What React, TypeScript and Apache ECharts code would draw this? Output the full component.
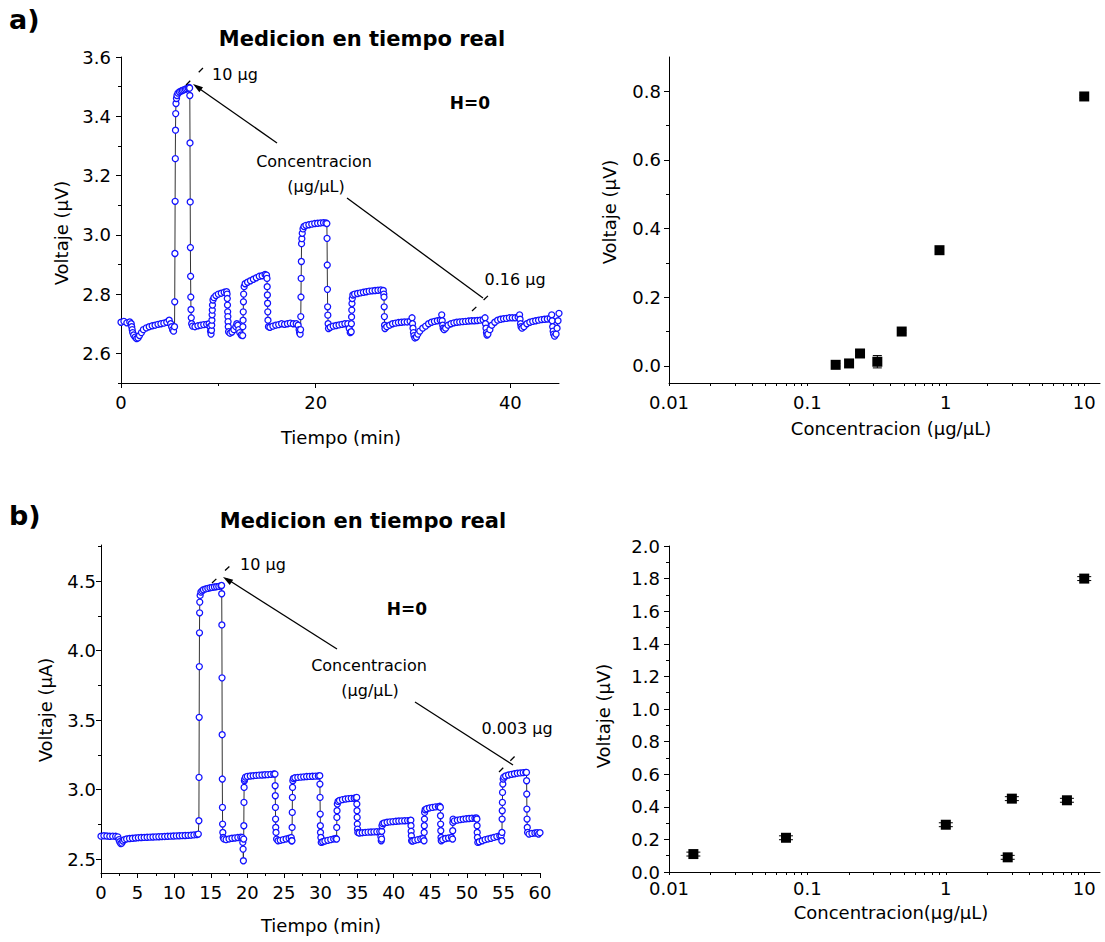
import React, { useEffect, useRef } from 'react';
import * as echarts from 'echarts';

const FONT = '"DejaVu Sans", sans-serif';
const BLUE = '#1212ff';

// Panel a) real-time measurement [time (min), voltage]
const seriesA: number[][] = [
  [0, 2.705], [0.3, 2.708], [0.6, 2.703], [0.9, 2.706], [1.05, 2.7], [1.1, 2.69], [1.15, 2.68], [1.2, 2.67], [1.3, 2.662], [1.45, 2.655], [1.6, 2.65], [1.75, 2.652], [1.9, 2.66], [2.1, 2.67], [2.3, 2.68], [2.6, 2.686], [2.9, 2.69], [3.2, 2.693], [3.5, 2.695], [3.8, 2.698], [4.1, 2.7], [4.4, 2.702], [4.7, 2.705], [4.95, 2.712], [5.1, 2.7], [5.2, 2.69], [5.3, 2.68], [5.4, 2.675],
  [5.5, 2.69], [5.52, 2.774], [5.54, 2.937], [5.56, 3.113], [5.58, 3.257], [5.6, 3.353], [5.62, 3.409], [5.65, 3.443], [5.7, 3.46], [5.75, 3.47], [5.85, 3.478], [6.0, 3.482], [6.15, 3.485], [6.3, 3.487], [6.45, 3.489], [6.6, 3.491], [6.75, 3.493], [6.9, 3.495], [7.0, 3.497],
  [7.05, 3.495], [7.07, 3.47], [7.09, 3.31], [7.11, 3.111], [7.13, 2.957], [7.15, 2.86], [7.17, 2.79], [7.19, 2.748], [7.22, 2.72], [7.26, 2.7], [7.35, 2.692], [7.6, 2.69], [7.9, 2.693], [8.2, 2.695], [8.5, 2.697], [8.8, 2.698], [9.05, 2.7],
  [9.15, 2.69], [9.2, 2.675], [9.25, 2.665],
  [9.3, 2.678], [9.32, 2.695], [9.34, 2.712], [9.36, 2.73], [9.38, 2.746], [9.4, 2.763], [9.45, 2.78], [9.55, 2.788], [9.75, 2.795], [10.0, 2.8], [10.3, 2.803], [10.6, 2.806], [10.85, 2.808],
  [10.9, 2.8], [10.92, 2.785], [10.94, 2.763], [10.96, 2.74], [10.98, 2.724], [11.0, 2.707], [11.02, 2.69], [11.05, 2.673], [11.2, 2.668], [11.4, 2.672], [11.6, 2.68], [11.8, 2.69], [11.9, 2.7], [12.0, 2.695], [12.1, 2.68], [12.2, 2.67], [12.35, 2.662],
  [12.5, 2.66], [12.52, 2.69], [12.54, 2.712], [12.56, 2.74], [12.58, 2.774], [12.6, 2.8], [12.65, 2.825], [12.75, 2.835], [13.0, 2.84], [13.3, 2.845], [13.6, 2.85], [13.9, 2.855], [14.2, 2.86], [14.5, 2.862], [14.8, 2.866], [14.95, 2.864],
  [15.0, 2.853], [15.02, 2.825], [15.04, 2.797], [15.06, 2.769], [15.08, 2.74], [15.1, 2.712], [15.15, 2.69], [15.3, 2.688], [15.6, 2.692], [15.9, 2.695], [16.2, 2.697], [16.5, 2.7], [16.8, 2.698], [17.1, 2.7], [17.4, 2.702], [17.7, 2.7], [18.0, 2.7], [18.2, 2.695],
  [18.3, 2.68], [18.35, 2.67], [18.4, 2.665],
  [18.45, 2.68], [18.47, 2.724], [18.49, 2.79], [18.51, 2.853], [18.53, 2.91], [18.55, 2.97], [18.58, 2.987], [18.62, 3.005], [18.7, 3.02], [18.8, 3.028], [19.0, 3.032], [19.3, 3.034], [19.6, 3.036], [19.9, 3.038], [20.2, 3.039], [20.5, 3.04], [20.8, 3.041], [21.05, 3.04],
  [21.15, 3.038], [21.17, 2.988], [21.19, 2.898], [21.21, 2.816], [21.23, 2.757], [21.25, 2.729], [21.28, 2.7], [21.32, 2.684], [21.5, 2.688], [21.8, 2.692], [22.1, 2.694], [22.4, 2.696], [22.7, 2.698], [23.0, 2.7], [23.3, 2.7],
  [23.45, 2.684], [23.55, 2.67],
  [23.65, 2.673], [23.67, 2.7], [23.69, 2.723], [23.71, 2.746], [23.73, 2.768], [23.76, 2.785], [23.82, 2.797], [24.0, 2.8], [24.3, 2.802], [24.6, 2.804], [24.9, 2.806], [25.2, 2.808], [25.5, 2.81], [25.8, 2.811], [26.1, 2.812], [26.4, 2.813], [26.7, 2.814], [26.95, 2.812],
  [27.0, 2.8], [27.02, 2.79], [27.04, 2.757], [27.06, 2.724], [27.08, 2.695], [27.12, 2.684], [27.3, 2.69], [27.6, 2.695], [27.9, 2.7], [28.2, 2.702], [28.5, 2.704], [28.8, 2.705], [29.1, 2.706], [29.4, 2.706], [29.7, 2.708],
  [29.9, 2.72], [29.95, 2.7], [30.0, 2.685], [30.05, 2.67], [30.1, 2.66], [30.2, 2.652], [30.35, 2.655], [30.5, 2.665], [30.7, 2.675], [31.0, 2.685], [31.3, 2.692], [31.6, 2.7], [31.9, 2.705], [32.2, 2.708], [32.5, 2.71], [32.8, 2.712],
  [32.95, 2.73], [33.0, 2.71], [33.05, 2.695], [33.1, 2.685], [33.2, 2.68], [33.35, 2.685], [33.6, 2.695], [33.9, 2.7], [34.2, 2.703], [34.5, 2.705], [34.8, 2.706], [35.1, 2.707], [35.4, 2.708], [35.7, 2.709], [36.0, 2.71], [36.3, 2.71], [36.6, 2.711], [36.9, 2.712], [37.2, 2.713],
  [37.4, 2.72], [37.45, 2.7], [37.5, 2.685], [37.55, 2.67], [37.6, 2.662], [37.7, 2.665], [37.9, 2.68], [38.1, 2.695], [38.4, 2.705], [38.7, 2.712], [39.0, 2.715], [39.3, 2.717], [39.6, 2.718], [39.9, 2.72], [40.2, 2.72], [40.5, 2.72], [40.8, 2.722],
  [40.95, 2.73], [41.0, 2.715], [41.05, 2.7], [41.1, 2.69], [41.2, 2.685], [41.4, 2.69], [41.7, 2.7], [42.0, 2.705], [42.3, 2.708], [42.6, 2.71], [42.9, 2.712], [43.2, 2.714], [43.5, 2.715], [43.8, 2.716], [44.1, 2.718],
  [44.25, 2.73], [44.3, 2.71], [44.35, 2.69], [44.4, 2.675], [44.45, 2.665], [44.55, 2.658], [44.7, 2.665], [44.8, 2.685], [44.9, 2.71], [45.0, 2.735],
];

// Panel b) real-time measurement [time (min), voltage]
const seriesB: number[][] = [
  [0, 2.665], [0.4, 2.668], [0.8, 2.666], [1.2, 2.664], [1.6, 2.665], [2.0, 2.664], [2.3, 2.66],
  [2.45, 2.64], [2.55, 2.625], [2.7, 2.612], [2.85, 2.615], [3.0, 2.63], [3.2, 2.64], [3.5, 2.645], [3.9, 2.648], [4.3, 2.65], [4.7, 2.652], [5.1, 2.654], [5.5, 2.655], [5.9, 2.656], [6.3, 2.657], [6.7, 2.658], [7.1, 2.659], [7.5, 2.66], [7.9, 2.661], [8.3, 2.662], [8.7, 2.663], [9.1, 2.664], [9.5, 2.665], [9.9, 2.666], [10.3, 2.667], [10.7, 2.668], [11.1, 2.669], [11.5, 2.67], [11.9, 2.671], [12.3, 2.672], [12.7, 2.674], [13.1, 2.676], [13.3, 2.68],
  [13.38, 2.776], [13.4, 3.088], [13.42, 3.52], [13.44, 3.885], [13.46, 4.128], [13.48, 4.272], [13.5, 4.349], [13.55, 4.397], [13.65, 4.421], [13.8, 4.43], [14.0, 4.438], [14.3, 4.444], [14.6, 4.448], [14.9, 4.452], [15.2, 4.455], [15.5, 4.458], [15.8, 4.46], [16.1, 4.462], [16.4, 4.465],
  [16.48, 4.469], [16.5, 4.409], [16.52, 4.185], [16.54, 3.804], [16.56, 3.395], [16.58, 3.076], [16.6, 2.872], [16.62, 2.752], [16.65, 2.692], [16.7, 2.656], [16.8, 2.645], [17.1, 2.64], [17.5, 2.645], [17.9, 2.65], [18.3, 2.652], [18.7, 2.655], [19.1, 2.658], [19.3, 2.655],
  [19.38, 2.62], [19.42, 2.572], [19.46, 2.488],
  [19.5, 2.644], [19.52, 2.74], [19.54, 2.908], [19.56, 3.016], [19.6, 3.064], [19.65, 3.076], [19.75, 3.09], [20.0, 3.095], [20.4, 3.098], [20.8, 3.1], [21.2, 3.102], [21.6, 3.104], [22.0, 3.105], [22.4, 3.107], [22.8, 3.108], [23.2, 3.11], [23.6, 3.112],
  [23.78, 3.112], [23.8, 3.028], [23.82, 2.956], [23.84, 2.872], [23.86, 2.788], [23.88, 2.728], [23.92, 2.692], [24.0, 2.644], [24.2, 2.632], [24.5, 2.635], [24.9, 2.64], [25.3, 2.645], [25.7, 2.65], [26.0, 2.655], [26.05, 2.632],
  [26.1, 2.632], [26.12, 2.728], [26.14, 2.836], [26.16, 2.944], [26.18, 3.016], [26.22, 3.064], [26.3, 3.08], [26.5, 3.085], [26.9, 3.088], [27.3, 3.09], [27.7, 3.092], [28.1, 3.094], [28.5, 3.095], [28.9, 3.096], [29.3, 3.097], [29.7, 3.098],
  [29.9, 3.1], [29.92, 3.04], [29.94, 2.944], [29.96, 2.824], [29.98, 2.74], [30.0, 2.692], [30.05, 2.656], [30.1, 2.62], [30.3, 2.625], [30.6, 2.63], [31.0, 2.635], [31.4, 2.64], [31.8, 2.645], [32.1, 2.648],
  [32.2, 2.644], [32.22, 2.728], [32.24, 2.8], [32.26, 2.848], [32.3, 2.896], [32.4, 2.915], [32.6, 2.922], [33.0, 2.928], [33.4, 2.932], [33.8, 2.935], [34.2, 2.937], [34.6, 2.938], [34.85, 2.94],
  [34.95, 2.944], [34.97, 2.896], [34.99, 2.848], [35.01, 2.8], [35.03, 2.752], [35.06, 2.716], [35.1, 2.692], [35.3, 2.688], [35.7, 2.69], [36.1, 2.692], [36.5, 2.694], [36.9, 2.695], [37.3, 2.696], [37.7, 2.697], [38.1, 2.698],
  [38.25, 2.66], [38.3, 2.632],
  [38.35, 2.644], [38.37, 2.7], [38.4, 2.74], [38.5, 2.755], [38.7, 2.76], [39.1, 2.765], [39.5, 2.768], [39.9, 2.77], [40.3, 2.772], [40.7, 2.774], [41.1, 2.775], [41.5, 2.776], [41.9, 2.777], [42.25, 2.778],
  [42.35, 2.78], [42.37, 2.74], [42.39, 2.7], [42.42, 2.668], [42.45, 2.632], [42.6, 2.63], [42.9, 2.635], [43.3, 2.64], [43.7, 2.645], [44.0, 2.648],
  [44.15, 2.632], [44.17, 2.692], [44.19, 2.74], [44.21, 2.788], [44.23, 2.836], [44.3, 2.855], [44.5, 2.862], [44.9, 2.868], [45.3, 2.872], [45.7, 2.876], [46.1, 2.878], [46.3, 2.88],
  [46.38, 2.872], [46.4, 2.812], [46.42, 2.752], [46.44, 2.704], [46.47, 2.656], [46.5, 2.632], [46.7, 2.64], [47.1, 2.648], [47.5, 2.652], [47.9, 2.656],
  [48.05, 2.644], [48.07, 2.704], [48.09, 2.764], [48.12, 2.788], [48.3, 2.775], [48.7, 2.78], [49.1, 2.784], [49.5, 2.787], [49.9, 2.79], [50.3, 2.792], [50.7, 2.794], [51.1, 2.795], [51.3, 2.796],
  [51.38, 2.788], [51.4, 2.74], [51.42, 2.692], [51.45, 2.656], [51.5, 2.62], [51.7, 2.625], [52.1, 2.632], [52.5, 2.64], [52.9, 2.645], [53.3, 2.65], [53.7, 2.656], [54.1, 2.662], [54.5, 2.668], [54.7, 2.67],
  [54.78, 2.632], [54.8, 2.692], [54.82, 2.788], [54.84, 2.848], [54.86, 2.908], [54.88, 2.98], [54.92, 3.04], [54.97, 3.076], [55.05, 3.09], [55.3, 3.098], [55.7, 3.105], [56.1, 3.11], [56.5, 3.114], [56.9, 3.118], [57.3, 3.12], [57.7, 3.122], [58.05, 3.124],
  [58.15, 3.124], [58.17, 3.064], [58.19, 2.968], [58.21, 2.86], [58.23, 2.788], [58.26, 2.728], [58.3, 2.692], [58.5, 2.68], [58.9, 2.685], [59.3, 2.688], [59.6, 2.69], [59.8, 2.68], [60.0, 2.69],
];

// Voltage vs concentration
const concA = [0.16, 0.2, 0.24, 0.32, 0.48, 0.9, 10];
const voltA = [0.003, 0.007, 0.036, 0.012, 0.1, 0.337, 0.785];
const errA = [0.004, 0.01, 0.006, 0.018, 0.004, 0.004, 0.004];

const concB = [0.015, 0.07, 1, 2.8, 3.0, 7.5, 10];
const voltB = [0.11, 0.21, 0.29, 0.09, 0.45, 0.44, 1.8];
const errB = [0.012, 0.012, 0.012, 0.012, 0.012, 0.012, 0.012];

// Tick values
const xTicksA = [0, 20, 40];
const xMinorA = [10, 30];
const yTicksA = [2.6, 2.8, 3.0, 3.2, 3.4, 3.6];
const yMinorA = [2.5, 2.7, 2.9, 3.1, 3.3, 3.5];
const yTicksB = [2.5, 3.0, 3.5, 4.0, 4.5];
const yMinorB = [2.75, 3.25, 3.75, 4.25, 4.75];
const yTicksAR = [0, 0.2, 0.4, 0.6, 0.8];
const yMinorAR = [0.1, 0.3, 0.5, 0.7];
const logDecades = [0.01, 0.1, 1, 10];
const logMinor = [0.02, 0.03, 0.04, 0.05, 0.06, 0.07, 0.08, 0.09, 0.2, 0.3, 0.4, 0.5, 0.6, 0.7, 0.8, 0.9, 2, 3, 4, 5, 6, 7, 8, 9];
const LOG_MAX = 13;

const AX = { color: '#000', width: 1 };
const labelStyle = { fontSize: 18, fontFamily: FONT, color: '#000' };

function valueAxis(grid: number, pos: string, min: number, max: number, ticks: number[], fmt: (v: number) => string, margin: number) {
  return {
    type: 'value', gridIndex: grid, position: pos, min, max,
    axisLine: { show: true, onZero: false, lineStyle: AX },
    axisTick: { show: true, length: 5, customValues: ticks, lineStyle: AX },
    axisLabel: { ...labelStyle, customValues: ticks, formatter: fmt, margin },
    splitLine: { show: false },
  };
}
function minorAxis(type: string, grid: number, pos: string, min: number, max: number, ticks: number[]) {
  return {
    type, gridIndex: grid, position: pos, min, max,
    axisLine: { show: false, onZero: false },
    axisTick: { show: true, length: 3, customValues: ticks, lineStyle: AX },
    axisLabel: { show: false },
    splitLine: { show: false },
  };
}
const logFmt = (v: number) => {
  const l = Math.log10(v);
  return Math.abs(l - Math.round(l)) < 1e-6 ? String(Number(v.toPrecision(1))) : '';
};
function logAxis(grid: number, margin: number) {
  return {
    type: 'log', logBase: 10, gridIndex: grid, position: 'bottom', min: 0.01, max: LOG_MAX,
    axisLine: { show: true, onZero: false, lineStyle: AX },
    axisTick: { show: false },
    minorTick: { show: false },
    axisLabel: { ...labelStyle, formatter: logFmt, margin },
    splitLine: { show: false },
  };
}

function errorSeries(x: number, y: number, data: number[][], cap: number) {
  return {
    type: 'custom', xAxisIndex: x, yAxisIndex: y, z: 5,
    data,
    encode: { x: 0, y: 1 },
    renderItem: (_p: any, api: any) => {
      const cx = api.value(0), cy = api.value(1), e = api.value(2);
      const top = api.coord([cx, cy + e]);
      const bot = api.coord([cx, cy - e]);
      const st = { stroke: '#000', lineWidth: 1 };
      return {
        type: 'group',
        children: [
          { type: 'line', shape: { x1: top[0], y1: top[1], x2: bot[0], y2: bot[1] }, style: st },
          { type: 'line', shape: { x1: top[0] - cap, y1: top[1], x2: top[0] + cap, y2: top[1] }, style: st },
          { type: 'line', shape: { x1: bot[0] - cap, y1: bot[1], x2: bot[0] + cap, y2: bot[1] }, style: st },
        ],
      };
    },
  };
}

function txt(text: string, x: number, y: number, size: number, opts: any = {}) {
  const align = opts.align || 'center';
  return {
    type: 'text', x, y, rotation: opts.rotation || 0, z: 100,
    style: {
      text, fill: '#000', fontSize: size, fontFamily: FONT, fontWeight: opts.bold ? 'bold' : 'normal',
      align, textAlign: align, verticalAlign: 'middle', textVerticalAlign: 'middle',
    },
  };
}
function seg(x1: number, y1: number, x2: number, y2: number, dash?: number[]) {
  return {
    type: 'line', z: 100,
    shape: { x1, y1, x2, y2 },
    style: { stroke: '#000', lineWidth: 1.3, lineDash: dash || null },
  };
}
function arrowHead(fx: number, fy: number, tx: number, ty: number) {
  const dx = tx - fx, dy = ty - fy;
  const L = Math.sqrt(dx * dx + dy * dy);
  const ux = dx / L, uy = dy / L;
  const bx = tx - ux * 10, by = ty - uy * 10;
  const px = -uy * 3.2, py = ux * 3.2;
  return {
    type: 'polygon', z: 100,
    shape: { points: [[tx, ty], [bx + px, by + py], [bx - px, by - py]] },
    style: { fill: '#000' },
  };
}

export default function App() {
  const ref = useRef<HTMLDivElement>(null);
  useEffect(() => {
    if (!ref.current) return;
    const chart = echarts.init(ref.current, undefined, { renderer: 'svg' });
    const lineSeries = (data: number[][], x: number, y: number) => ({
      type: 'line', xAxisIndex: x, yAxisIndex: y, data,
      symbol: 'circle', symbolSize: 6, showSymbol: true, showAllSymbol: true,
      itemStyle: { color: '#fff', borderColor: BLUE, borderWidth: 1.3 },
      lineStyle: { color: '#333', width: 1 },
      emphasis: { disabled: true },
    });
    const option: any = {
      animation: false,
      backgroundColor: '#fff',
      textStyle: { fontFamily: FONT },
      grid: [
        { left: 121, top: 57, width: 438, height: 326, outerBoundsMode: 'none' },
        { left: 669, top: 57, width: 431, height: 326, outerBoundsMode: 'none' },
        { left: 101, top: 545, width: 439, height: 328, outerBoundsMode: 'none' },
        { left: 669, top: 546, width: 431, height: 326, outerBoundsMode: 'none' },
      ],
      xAxis: [
        valueAxis(0, 'bottom', 0, 45, xTicksA, (v) => String(v), 10),
        minorAxis('value', 0, 'bottom', 0, 45, xMinorA),
        logAxis(1, 10),
        minorAxis('value', 1, 'bottom', -2, Math.log10(LOG_MAX), logDecades.map((v) => Math.log10(v))),
        minorAxis('value', 1, 'bottom', -2, Math.log10(LOG_MAX), logMinor.map((v) => Math.log10(v))),
        {
          type: 'value', gridIndex: 2, position: 'bottom', min: 0, max: 60, interval: 5,
          axisLine: { show: true, onZero: false, lineStyle: AX },
          axisTick: { show: true, length: 5, lineStyle: AX },
          minorTick: { show: true, splitNumber: 2, length: 3, lineStyle: AX },
          axisLabel: { ...labelStyle, margin: 10 },
          splitLine: { show: false },
        },
        logAxis(3, 7),
        minorAxis('value', 3, 'bottom', -2, Math.log10(LOG_MAX), logDecades.map((v) => Math.log10(v))),
        minorAxis('value', 3, 'bottom', -2, Math.log10(LOG_MAX), logMinor.map((v) => Math.log10(v))),
      ],
      yAxis: [
        valueAxis(0, 'left', 2.5, 3.6, yTicksA, (v) => v.toFixed(1), 10),
        minorAxis('value', 0, 'left', 2.5, 3.6, yMinorA),
        valueAxis(1, 'left', -0.05, 0.9, yTicksAR, (v) => v.toFixed(1), 8),
        minorAxis('value', 1, 'left', -0.05, 0.9, yMinorAR),
        valueAxis(2, 'left', 2.4, 4.76, yTicksB, (v) => v.toFixed(1), 5),
        minorAxis('value', 2, 'left', 2.4, 4.76, yMinorB),
        {
          type: 'value', gridIndex: 3, position: 'left', min: 0, max: 2, interval: 0.2,
          axisLine: { show: true, onZero: false, lineStyle: AX },
          axisTick: { show: true, length: 5, lineStyle: AX },
          minorTick: { show: true, splitNumber: 2, length: 3, lineStyle: AX },
          axisLabel: { ...labelStyle, margin: 9, formatter: (v: number) => v.toFixed(1) },
          splitLine: { show: false },
        },
      ],
      series: [
        lineSeries(seriesA, 0, 0),
        {
          type: 'scatter', xAxisIndex: 2, yAxisIndex: 2, symbol: 'rect', symbolSize: 10,
          data: concA.map((c, i) => [c, voltA[i]]), itemStyle: { color: '#000', opacity: 1 }, z: 3,
          emphasis: { disabled: true },
        },
        errorSeries(2, 2, concA.map((c, i) => [c, voltA[i], errA[i]]), 4.5),
        lineSeries(seriesB, 5, 4),
        {
          type: 'scatter', xAxisIndex: 6, yAxisIndex: 6, symbol: 'rect', symbolSize: 10,
          data: concB.map((c, i) => [c, voltB[i]]), itemStyle: { color: '#000', opacity: 1 }, z: 3,
          emphasis: { disabled: true },
        },
        errorSeries(6, 6, concB.map((c, i) => [c, voltB[i], errB[i]]), 7),
      ],
      graphic: [
        txt('a)', 9, 19, 27, { bold: true, align: 'left' }),
        txt('b)', 9, 515, 27, { bold: true, align: 'left' }),
        txt('Medicion en tiempo real', 362, 39, 21, { bold: true }),
        txt('Medicion en tiempo real', 363, 521, 21, { bold: true }),
        // axis titles
        txt('Voltaje (μV)', 61, 233, 18, { rotation: Math.PI / 2 }),
        txt('Tiempo (min)', 341, 437, 18),
        txt('Voltaje (μV)', 609, 212, 18, { rotation: Math.PI / 2 }),
        txt('Concentracion (μg/μL)', 891, 428, 18),
        txt('Voltaje (μA)', 45, 710, 18, { rotation: Math.PI / 2 }),
        txt('Tiempo (min)', 321, 925, 18),
        txt('Voltaje (μV)', 603, 716, 18, { rotation: Math.PI / 2 }),
        txt('Concentracion(μg/μL)', 891, 912, 18),
        // annotations panel a
        txt('10 μg', 212, 74, 16, { align: 'left' }),
        seg(186, 85, 205, 66, [6, 12]),
        seg(277, 143, 197, 87),
        arrowHead(277, 143, 193, 84),
        txt('Concentracion', 314, 161, 16),
        txt('(μg/μL)', 316, 186, 16),
        seg(347, 198, 483, 298),
        txt('0.16 μg', 515, 279, 16),
        seg(472, 311, 492, 292, [6, 10]),
        txt('H=0', 470, 103, 17, { bold: true }),
        // annotations panel b
        txt('10 μg', 240, 564, 16, { align: 'left' }),
        seg(212, 583, 233, 563, [6, 12]),
        seg(337, 649, 227, 579),
        arrowHead(337, 649, 223, 577),
        txt('Concentracion', 369, 665, 16),
        txt('(μg/μL)', 370, 690, 16),
        seg(415, 702, 513, 765),
        txt('0.003 μg', 517, 728, 16),
        seg(499, 772, 518, 753, [6, 10]),
        txt('H=0', 407, 609, 17, { bold: true }),
      ],
    };
    chart.setOption(option);
    return () => chart.dispose();
  }, []);
  return <div ref={ref} style={{ position: 'absolute', left: 0, top: 0, width: 1105, height: 942 }} />;
}
